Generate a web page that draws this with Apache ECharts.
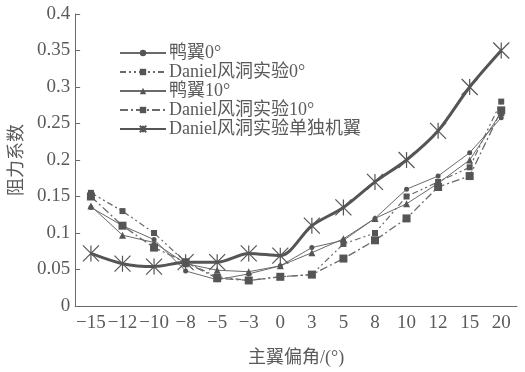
<!DOCTYPE html>
<html>
<head>
<meta charset="utf-8">
<script src="https://cdn.jsdelivr.net/npm/echarts@6/dist/echarts.min.js"></script>
<style>
  html, body { margin: 0; padding: 0; background: #fff; }
  #chart { width: 525px; height: 372px; }
</style>
</head>
<body>
<div id="chart"></div>
<script>
// Main-wing deflection angles (evenly spaced categories)
const angles = ['−15', '−12', '−10', '−8', '−5', '−3', '0', '3', '5', '8', '10', '12', '15', '20'];

// Drag coefficient per configuration
const canard0   = [0.135, 0.110, 0.091, 0.048, 0.036, 0.044, 0.055, 0.080, 0.090, 0.120, 0.160, 0.178, 0.210, 0.258];
const daniel0   = [0.155, 0.130, 0.100, 0.060, 0.040, 0.035, 0.040, 0.043, 0.085, 0.100, 0.150, 0.170, 0.190, 0.280];
const canard10  = [0.137, 0.097, 0.087, 0.058, 0.049, 0.047, 0.055, 0.073, 0.092, 0.120, 0.140, 0.168, 0.200, 0.265];
const daniel10  = [0.150, 0.110, 0.080, 0.060, 0.038, 0.035, 0.040, 0.043, 0.065, 0.090, 0.120, 0.163, 0.178, 0.268];
const wingAlone = [0.072, 0.058, 0.054, 0.060, 0.060, 0.072, 0.069, 0.110, 0.135, 0.170, 0.200, 0.240, 0.300, 0.350];

const seriesNames = ['鸭翼0°', 'Daniel风洞实验0°', '鸭翼10°', 'Daniel风洞实验10°', 'Daniel风洞实验单独机翼'];

const FONT = '"Liberation Serif", "Times New Roman", "Noto Sans CJK SC", serif';
const INK = '#5a5a5a';
const LINE = '#6a6a6a';

const asterisk = 'path://M0,0L10,10M10,0L0,10M5,0L5,10';

const chart = echarts.init(document.getElementById('chart'), null, { renderer: 'canvas' });

chart.setOption({
  animation: false,
  backgroundColor: '#fff',
  textStyle: { fontFamily: FONT, color: INK },
  grid: { left: 74, top: 14, right: 8, bottom: 50, containLabel: false },
  legend: {
    left: 114,
    top: 39,
    orient: 'vertical',
    itemGap: 1,
    itemWidth: 46,
    itemHeight: 8,
    textStyle: { fontFamily: FONT, fontSize: 18, lineHeight: 18, color: INK, padding: [0, 0, 0, -2] },
    data: seriesNames
  },
  xAxis: {
    type: 'category',
    data: angles,
    boundaryGap: true,
    name: '主翼偏角/(°)',
    nameLocation: 'middle',
    nameGap: 43,
    nameTextStyle: { fontFamily: FONT, fontSize: 18, color: INK },
    axisLine: { lineStyle: { color: LINE, width: 1 } },
    axisTick: { inside: true, length: 5, alignWithLabel: false, lineStyle: { color: LINE } },
    axisLabel: { interval: 0, fontFamily: FONT, fontSize: 19, color: INK, margin: 8 },
    splitLine: { show: false }
  },
  yAxis: {
    type: 'value',
    min: 0,
    max: 0.4,
    interval: 0.05,
    name: '阻力系数',
    nameLocation: 'middle',
    nameGap: 48,
    nameRotate: 90,
    nameTextStyle: { fontFamily: FONT, fontSize: 18, color: INK },
    axisLine: { show: true, lineStyle: { color: LINE, width: 1 } },
    axisTick: { show: true, inside: true, length: 5, lineStyle: { color: LINE } },
    axisLabel: { fontFamily: FONT, fontSize: 19, color: INK, margin: 5 },
    splitLine: { show: false }
  },
  series: [
    {
      name: seriesNames[0], type: 'line', data: canard0,
      symbol: 'circle', symbolSize: 5,
      lineStyle: { color: LINE, width: 1 },
      itemStyle: { color: '#555' }
    },
    {
      name: seriesNames[1], type: 'line', data: daniel0,
      symbol: 'rect', symbolSize: 6,
      lineStyle: { color: LINE, width: 1.2, type: [6, 3, 2, 3, 2, 3] },
      itemStyle: { color: '#555' }
    },
    {
      name: seriesNames[2], type: 'line', data: canard10,
      symbol: 'triangle', symbolSize: 7,
      lineStyle: { color: LINE, width: 1 },
      itemStyle: { color: '#555' }
    },
    {
      name: seriesNames[3], type: 'line', data: daniel10,
      symbol: 'rect', symbolSize: 8,
      lineStyle: { color: LINE, width: 1.3, type: [8, 3, 2, 3] },
      itemStyle: { color: '#555' }
    },
    {
      name: seriesNames[4], type: 'line', data: wingAlone,
      smooth: 0.3,
      symbol: asterisk, symbolSize: 16,
      lineStyle: { color: '#555', width: 3 },
      itemStyle: { color: 'none', borderColor: '#555', borderWidth: 1.2 }
    }
  ]
});
</script>
</body>
</html>
